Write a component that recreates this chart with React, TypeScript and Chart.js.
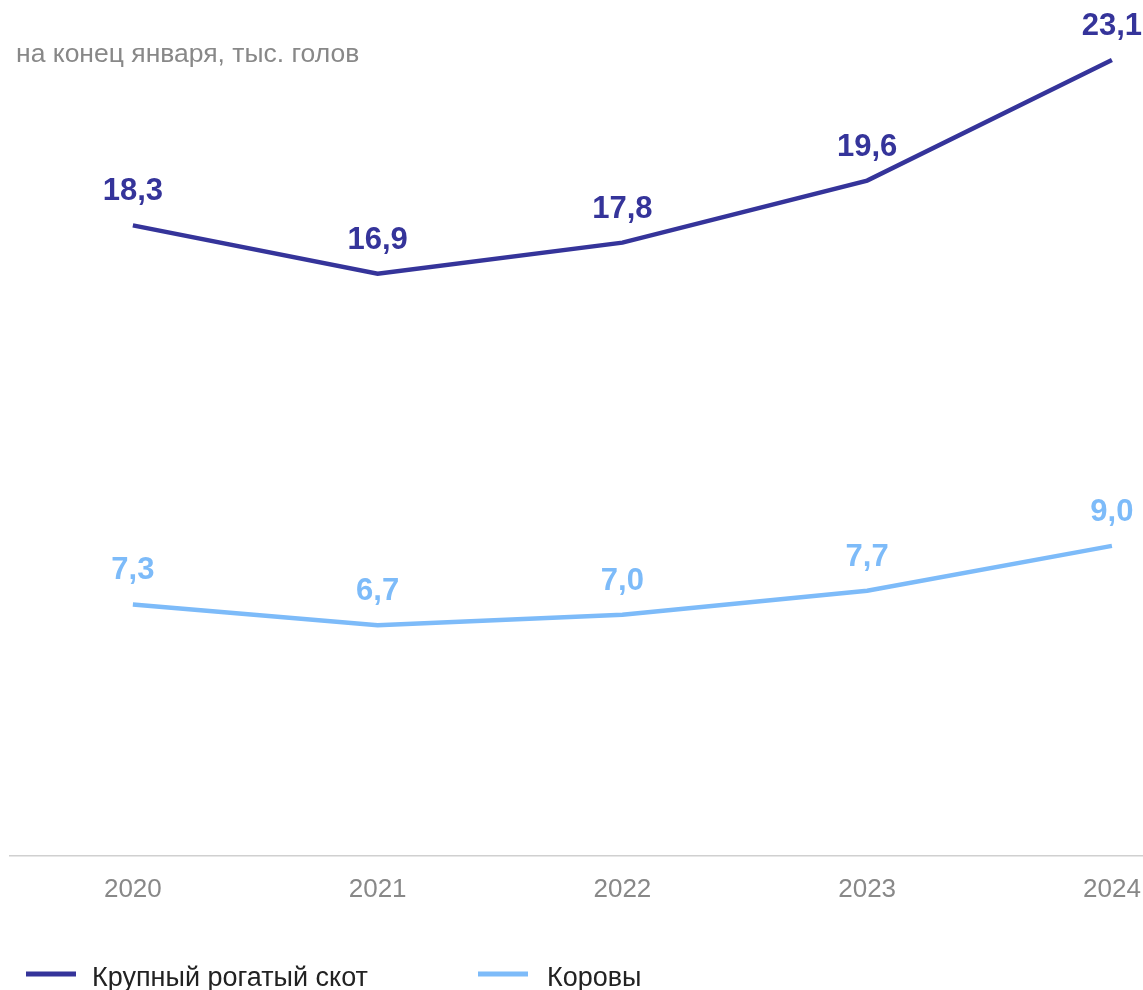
import React, { useEffect, useRef } from "react";
import { Chart, registerables } from "chart.js";

Chart.register(...registerables);

const categories = ["2020", "2021", "2022", "2023", "2024"];
const cattleValues = [18.3, 16.9, 17.8, 19.6, 23.1];
const cowValues = [7.3, 6.7, 7.0, 7.7, 9.0];
const seriesLabels = ["Крупный рогатый скот", "Коровы"];
const seriesColors = ["#35349A", "#7DBBF9"];
const subtitleText = "на конец января, тыс. голов";

const fmt = (v: number) => v.toFixed(1).replace(".", ",");
const FONT = "'Liberation Sans', Arial, sans-serif";

const overlayPlugin = {
  id: "overlay",
  afterDatasetsDraw(chart: any) {
    const ctx = chart.ctx;
    ctx.save();
    // data labels
    chart.data.datasets.forEach((ds: any, di: number) => {
      const meta = chart.getDatasetMeta(di);
      ctx.font = `bold 31px ${FONT}`;
      ctx.fillStyle = ds.borderColor;
      ctx.textAlign = "center";
      ctx.textBaseline = "alphabetic";
      meta.data.forEach((pt: any, i: number) => {
        ctx.fillText(fmt(ds.data[i].y), pt.x, pt.y - 25);
      });
    });
    // subtitle
    ctx.font = `26.5px ${FONT}`;
    ctx.fillStyle = "#888888";
    ctx.textAlign = "left";
    ctx.textBaseline = "alphabetic";
    ctx.fillText(subtitleText, 16, 62);
    // legend
    const legendX = [26, 478];
    const y = 974;
    chart.data.datasets.forEach((ds: any, di: number) => {
      const x0 = legendX[di];
      ctx.strokeStyle = ds.borderColor;
      ctx.lineWidth = 5;
      ctx.lineCap = "butt";
      ctx.beginPath();
      ctx.moveTo(x0, y);
      ctx.lineTo(x0 + 50, y);
      ctx.stroke();
      ctx.font = `27px ${FONT}`;
      ctx.fillStyle = "#222222";
      ctx.textAlign = "left";
      ctx.textBaseline = "alphabetic";
      ctx.fillText(ds.label, x0 + 66 + (di === 1 ? 3 : 0), 986);
    });
    ctx.restore();
  },
};

export default function App() {
  const ref = useRef<HTMLCanvasElement | null>(null);
  useEffect(() => {
    document.body.style.margin = "0";
    const toPts = (arr: number[]) => arr.map((v, i) => ({ x: i, y: v }));
    const chart = new Chart(ref.current as HTMLCanvasElement, {
      type: "line",
      data: {
        datasets: [
          {
            label: seriesLabels[0],
            data: toPts(cattleValues),
            borderColor: seriesColors[0],
            backgroundColor: seriesColors[0],
            borderWidth: 4.5,
            pointRadius: 0,
            tension: 0,
          },
          {
            label: seriesLabels[1],
            data: toPts(cowValues),
            borderColor: seriesColors[1],
            backgroundColor: seriesColors[1],
            borderWidth: 4.5,
            pointRadius: 0,
            tension: 0,
          },
        ],
      },
      options: {
        animation: false,
        responsive: false,
        devicePixelRatio: 1,
        layout: { padding: { top: 29, left: 10, right: 0, bottom: 89 } },
        plugins: {
          legend: { display: false },
          tooltip: { enabled: false },
        },
        scales: {
          x: {
            type: "linear",
            min: -0.502,
            max: 4.127,
            grid: { display: false, drawTicks: false },
            border: { display: true, color: "#D0D0D0", width: 1.5 },
            afterBuildTicks: (axis: any) => {
              axis.ticks = categories.map((_, i) => ({ value: i }));
            },
            afterFit: (axis: any) => {
              axis.height = 45;
            },
            ticks: {
              padding: 0,
              color: "#888888",
              font: { size: 26, family: FONT, lineHeight: "68px" },
              callback: (v: any) => categories[v as number] ?? "",
              maxRotation: 0,
              autoSkip: false,
            },
          },
          y: {
            display: false,
            min: 0,
            max: 24,
          },
        },
      },
      plugins: [overlayPlugin],
    });
    return () => chart.destroy();
  }, []);
  return <canvas ref={ref} width={1143} height={990} style={{ display: "block" }} />;
}
